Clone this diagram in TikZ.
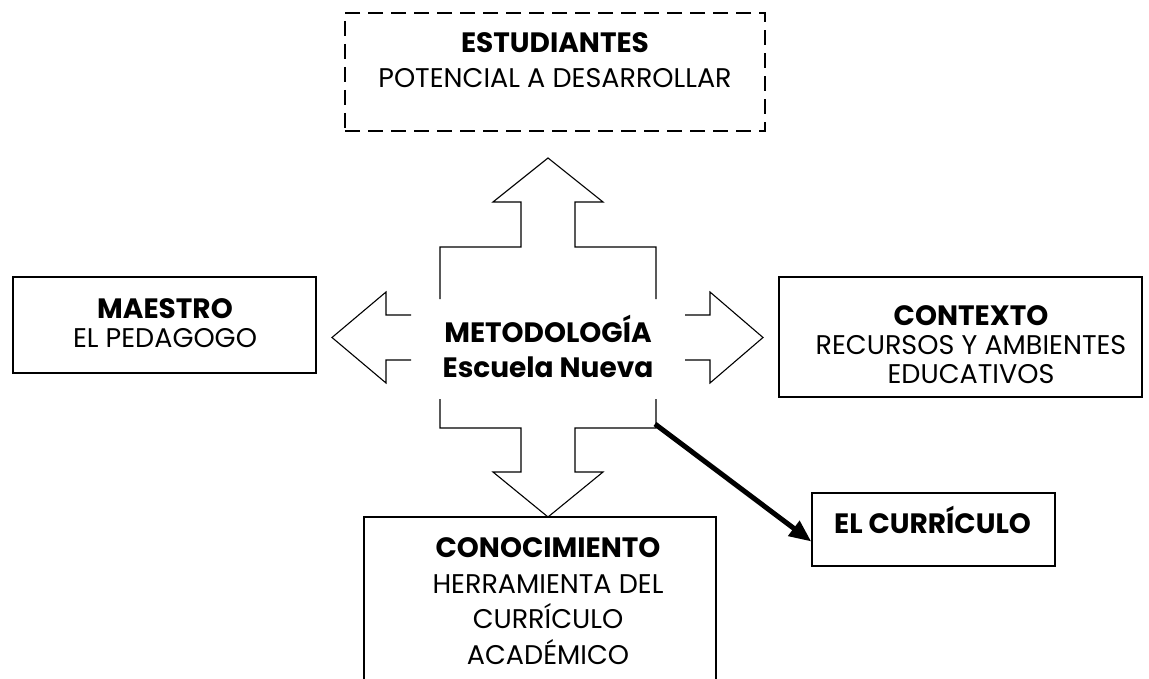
\documentclass[tikz,border=0pt]{standalone}
\usepackage{fontspec}
\setmainfont{Poppins}
\usetikzlibrary{arrows.meta}
\begin{document}
\begin{tikzpicture}[x=1pt,y=-1pt,
  box/.style={draw,line width=1.4pt,rectangle,inner sep=0pt},
  dbox/.style={box,dash pattern=on 15pt off 8pt},
  txt/.style={anchor=base,inner sep=0pt,font=\fontsize{27}{32}\selectfont},
  btxt/.style={txt,font=\fontsize{28}{32}\selectfont\bfseries},
  callout/.style={line width=1.1pt,line join=miter},
  thick arrow/.style={line width=5pt,-{Triangle[length=22pt,width=18pt]}}]
\useasboundingbox[fill=white] (0,0) rectangle (1149,679);
% boxes
\node[dbox,minimum width=420pt,minimum height=118pt] (est) at (555,72) {};
\node[box,minimum width=303pt,minimum height=96pt] (mae) at (164.5,325) {};
\node[box,minimum width=363pt,minimum height=120pt] (ctx) at (960.5,337) {};
\node[box,minimum width=352pt,minimum height=180pt] (con) at (540,607) {};
\node[box,minimum width=243pt,minimum height=73pt] (cur) at (933.5,529.5) {};
% texts
\node[btxt] (estA) at (555,53) {ESTUDIANTES};
\node[txt] (estB) at (555,88) {POTENCIAL A DESARROLLAR};
\node[btxt] (maeA) at (165,318) {MAESTRO};
\node[txt] (maeB) at (165,347) {EL PEDAGOGO};
\node[btxt] (metA) at (548,342) {METODOLOGÍA};
\node[btxt] (metB) at (548,377) {Escuela Nueva};
\node[btxt] (ctxA) at (971,325) {CONTEXTO};
\node[txt] (ctxB) at (971,354) {RECURSOS Y AMBIENTES};
\node[txt] (ctxC) at (971,383) {EDUCATIVOS};
\node[btxt] (conA) at (548,557) {CONOCIMIENTO};
\node[txt] (conB) at (548,593) {HERRAMIENTA DEL};
\node[txt] (conC) at (548,628) {CURRÍCULO};
\node[txt] (conD) at (548,664) {ACADÉMICO};
\node[btxt,anchor=base west] (curA) at (834,533) {EL CURRÍCULO};
% quad arrow callout
\draw[callout] (440,299)--(440,247)--(521,247)--(521,202)--(493,202)--(548,158)--(603,202)--(575,202)--(575,247)--(656,247)--(656,299);
\draw[callout] (411,315)--(386,315)--(386,292)--(332,337.5)--(386,383)--(386,360)--(411,360);
\draw[callout] (685,315)--(710,315)--(710,292)--(763,337.5)--(710,383)--(710,360)--(685,360);
\draw[callout] (440,399)--(440,428)--(521,428)--(521,472)--(493,472)--(548,517)--(603,472)--(575,472)--(575,428)--(656,428)--(656,399);
\coordinate (corner) at (655,424);
\draw[thick arrow] (corner) -- ([yshift=-12pt]cur.west);
\end{tikzpicture}
\end{document}
